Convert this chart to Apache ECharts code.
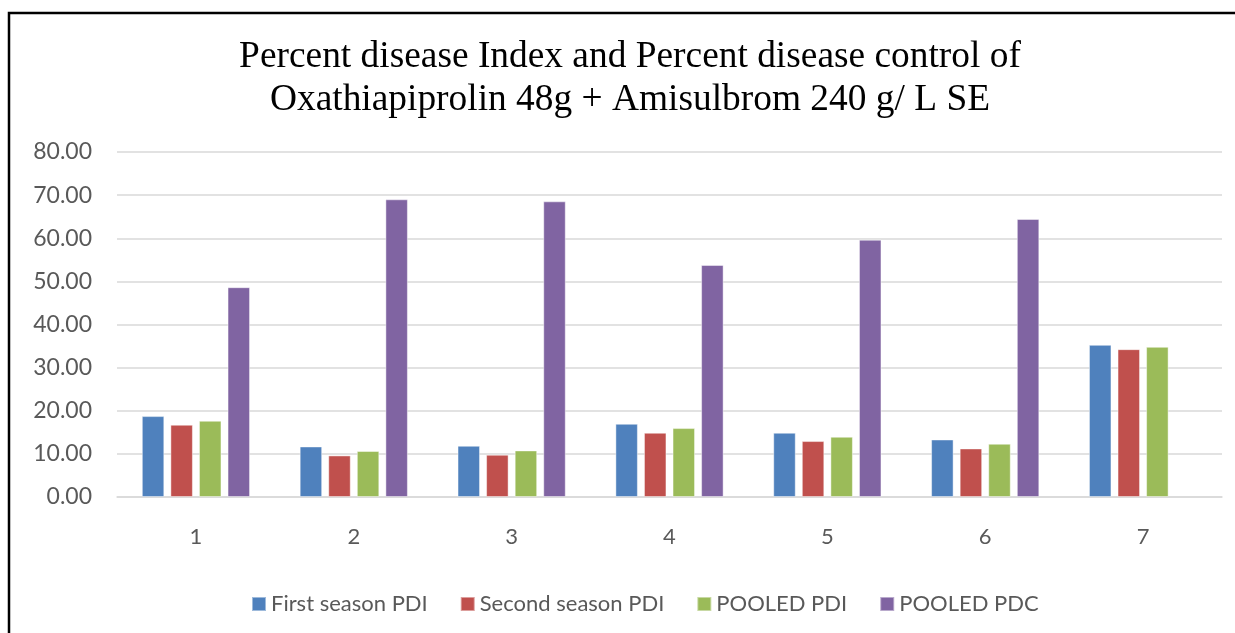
<!DOCTYPE html>
<html>
<head>
<meta charset="utf-8">
<script src="https://cdn.jsdelivr.net/npm/echarts@6/dist/echarts.min.js"></script>
<style>html,body{margin:0;padding:0;background:#fff;}#c{width:1235px;height:633px;}</style>
</head>
<body>
<div id="c"></div>
<script>
const categories = ['1','2','3','4','5','6','7'];
const firstSeasonPDI = [18.76, 11.72, 11.88, 16.98, 14.90, 13.34, 35.28];
const secondSeasonPDI = [16.76, 9.64, 9.80, 14.90, 12.97, 11.26, 34.28];
const pooledPDI = [17.68, 10.66, 10.80, 15.98, 13.97, 12.35, 34.82];
const pooledPDC = [48.65, 69.03, 68.56, 53.80, 59.67, 64.47, null];
const seriesNames = ['First season PDI','Second season PDI','POOLED PDI','POOLED PDC'];
const colors = ['#4F81BD','#C0504D','#9BBB59','#8064A2'];
const titleText = 'Percent disease Index and Percent disease control of\nOxathiapiprolin 48g + Amisulbrom 240 g/ L SE';

const labelFont = 'Lato, "Noto Sans", sans-serif';
const chart = echarts.init(document.getElementById('c'), null, {renderer:'canvas'});
const dataSets = [firstSeasonPDI, secondSeasonPDI, pooledPDI, pooledPDC];
chart.setOption({
  animation: false,
  backgroundColor: '#fff',
  title: {
    text: titleText,
    left: 630,
    top: 36,
    padding: 0,
    textAlign: 'center',
    textStyle: {fontFamily: '"Liberation Serif", "Times New Roman", serif', fontSize: 37.4, fontWeight: 'normal', color: '#000', lineHeight: 43}
  },
  graphic: [{
    type: 'rect',
    shape: {x: 9, y: 13, width: 1400, height: 800},
    style: {fill: 'none', stroke: '#000', lineWidth: 2.5},
    silent: true
  }],
  legend: {
    data: seriesNames,
    left: 246,
    top: 588,
    itemWidth: 14,
    itemHeight: 14,
    itemGap: 32,
    icon: 'rect',
    textStyle: {fontFamily: labelFont, fontSize: 22, color: '#595959', padding: [0,0,0,0]}
  },
  grid: {left: 117, right: 13, top: 152, bottom: 136},
  xAxis: {
    type: 'category',
    data: categories,
    axisTick: {show: false},
    axisLine: {lineStyle: {color: '#d9d9d9', width: 1.5}},
    axisLabel: {fontFamily: labelFont, fontSize: 22, color: '#595959', margin: 29}
  },
  yAxis: {
    type: 'value',
    min: 0, max: 80, interval: 10,
    axisLine: {show: false},
    axisTick: {show: false},
    splitLine: {lineStyle: {color: '#d9d9d9', width: 1.5}},
    axisLabel: {fontFamily: labelFont, fontSize: 23, color: '#595959', margin: 25,
      formatter: v => v.toFixed(2)}
  },
  series: seriesNames.map((n, i) => ({
    name: n,
    type: 'bar',
    data: dataSets[i],
    barWidth: 22.5,
    barGap: '27%',
    itemStyle: {color: colors[i], borderColor: 'rgba(255,255,255,0.45)', borderWidth: 1}
  }))
});
</script>
</body>
</html>
